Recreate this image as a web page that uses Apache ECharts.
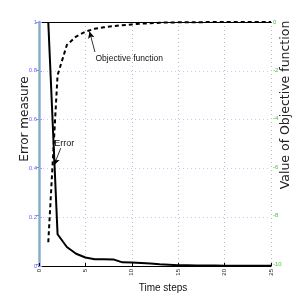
<!DOCTYPE html>
<html><head><meta charset="utf-8">
<script src="https://cdn.jsdelivr.net/npm/echarts@6/dist/echarts.min.js"></script>
<style>html,body{margin:0;padding:0;background:#fff}#c{width:300px;height:300px}</style>
</head><body><div id="c"></div>
<script>
var timeSteps = [1,2,3,4,5,6,7,8,9,10,11,12,13,14,15,16,17,18,19,20,21,22,23,24,25];
var errorValues = [1,0.13,0.078,0.05,0.035,0.028,0.028,0.027,0.015,0.014,0.012,0.01,0.007,0.005,0.003,0.003,0.002,0.002,0.002,0.001,0.001,0.001,0.001,0.001,0.001];
var objectiveValues = [-9.1,-2.2,-0.95,-0.6,-0.4,-0.28,-0.22,-0.17,-0.13,-0.1,-0.07,-0.05,-0.03,-0.02,-0.015,-0.01,-0.01,-0.005,-0.005,-0.005,0,0,0,0,0];
var xTicks = [0,5,10,15,20,25];
var errorTicks = [0,0.2,0.4,0.6,0.8,1];
var objTicks = [-10,-8,-6,-4,-2,0];

var narrow = "'Liberation Sans Narrow','Liberation Sans',Arial,sans-serif";
function pair(xs, ys){ return xs.map(function(x,i){return [x, ys[i]];}); }

var chart = echarts.init(document.getElementById('c'), null, {renderer:'canvas'});
chart.setOption({
  animation:false,
  backgroundColor:'#fff',
  grid:[
    {left:39, right:29, top:22, bottom:34, outerBoundsMode:'none', containLabel:false},
    {left:39, right:29, top:22, bottom:36, outerBoundsMode:'none', containLabel:false}
  ],
  xAxis:[
    {gridIndex:0, type:'value', min:xTicks[0], max:xTicks[xTicks.length-1], interval:5, position:'bottom',
     name:'Time steps', nameLocation:'middle', nameGap:17, nameMoveOverlap:false,
     nameTextStyle:{fontFamily:narrow, fontSize:10, color:'#111', padding:[0,0,0,16]},
     axisLine:{lineStyle:{color:'#000', width:1.2}},
     axisTick:{inside:true, length:3, lineStyle:{color:'#000'}},
     axisLabel:{rotate:90, fontSize:6, fontFamily:narrow, color:'#222', margin:3},
     splitLine:{show:true, lineStyle:{type:[1,3], color:'#bbb'}}},
    {gridIndex:1, type:'value', min:0, max:25, position:'bottom',
     axisLine:{lineStyle:{color:'#000', width:1.2}}, axisTick:{show:false}, axisLabel:{show:false}, splitLine:{show:false}},
    {gridIndex:0, type:'value', min:0, max:25, position:'top',
     axisLine:{lineStyle:{color:'#000', width:1}}, axisTick:{show:false}, axisLabel:{show:false}, splitLine:{show:false}}
  ],
  yAxis:[
    {gridIndex:0, type:'value', min:errorTicks[0], max:errorTicks[errorTicks.length-1], interval:0.2, position:'left',
     name:'Error measure', nameLocation:'middle', nameRotate:90, nameGap:8, nameMoveOverlap:false,
     nameTextStyle:{fontFamily:'DejaVu Sans', fontSize:12, color:'#222', padding:[0,0,0,50]},
     axisLine:{lineStyle:{color:'#99a0ff', width:2.5}},
     axisTick:{inside:true, length:3, lineStyle:{color:'#99a0ff'}},
     axisLabel:{fontSize:6, fontFamily:narrow, color:'#6a6aff', margin:2},
     splitLine:{show:true, lineStyle:{type:[1,3], color:'#c8c8ff'}}},
    {gridIndex:1, type:'value', min:objTicks[0], max:objTicks[objTicks.length-1], interval:2, position:'right',
     name:'Value of Objective function', nameLocation:'middle', nameRotate:90, nameGap:8, nameMoveOverlap:false,
     nameTextStyle:{fontFamily:'DejaVu Sans', fontSize:12.5, color:'#222', padding:[0,0,0,76]},
     axisLine:{lineStyle:{color:'#77c077', width:1}},
     axisTick:{show:true, inside:true, length:3, lineStyle:{color:'#8888ff'}},
     axisLabel:{fontSize:6, fontFamily:narrow, color:'#44c044', margin:2},
     splitLine:{show:false}}
  ],
  series:[
    {type:'line', xAxisIndex:0, yAxisIndex:0, data:pair(timeSteps, errorValues), symbol:'none',
     lineStyle:{color:'#000', width:2}, z:5,
     markLine:{silent:true, symbol:['none','arrow'], symbolSize:[5,7],
       lineStyle:{color:'#000', width:0.8, type:'solid'}, label:{show:false},
       data:[[{coord:[2.34,0.483]},{coord:[1.62,0.413]}]]},
     markPoint:{silent:true, symbol:'circle', symbolSize:1, itemStyle:{color:'rgba(0,0,0,0)'},
       label:{show:true, formatter:'Error', position:'right', distance:0, fontFamily:narrow, fontSize:9, color:'#111'},
       data:[{coord:[1.6,0.5]}]}
    },
    {type:'line', xAxisIndex:1, yAxisIndex:1, data:pair(timeSteps, objectiveValues), symbol:'none',
     lineStyle:{color:'#000', width:2, type:[4,3]}, z:5,
     markLine:{silent:true, symbol:['none','arrow'], symbolSize:[5,7],
       lineStyle:{color:'#000', width:0.8, type:'solid'}, label:{show:false},
       data:[[{coord:[6.03,-1.24]},{coord:[5.44,-0.39]}]]},
     markPoint:{silent:true, symbol:'circle', symbolSize:1, itemStyle:{color:'rgba(0,0,0,0)'},
       label:{show:true, formatter:'Objective function', position:'right', distance:0, fontFamily:narrow, fontSize:8.5, color:'#111'},
       data:[{coord:[6.03,-1.53]}]}
    }
  ]
});
</script></body></html>
